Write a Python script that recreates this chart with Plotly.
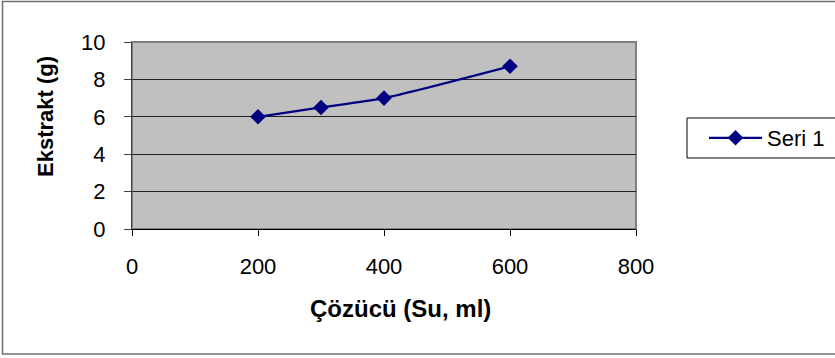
import plotly.graph_objects as go

# Solvent volume (ml) and extract yield (g)
solvent_ml = [200, 300, 400, 600]
extract_g = [6.0, 6.5, 7.0, 8.7]
series_name = "Seri 1"

x_ticks = [0, 200, 400, 600, 800]
y_ticks = [0, 2, 4, 6, 8, 10]

W, H = 835, 358
L, R, T, B = 132, 636, 42, 229  # plot area in pixels


def px_x(p):
    return (p - L) / (R - L)


def px_y(p):
    return (B - p) / (B - T)


FONT = "Liberation Sans, Arial, sans-serif"

fig = go.Figure()
fig.add_trace(go.Scatter(
    x=solvent_ml, y=extract_g, name=series_name,
    mode="lines+markers",
    line=dict(color="#000080", width=2.2, shape="spline", smoothing=0.6),
    marker=dict(symbol="diamond", size=12, color="#000080"),
))

fig.update_layout(
    width=W, height=H,
    margin=dict(l=L, r=W - R, t=T, b=H - B, autoexpand=False),
    paper_bgcolor="white",
    plot_bgcolor="#C0C0C0",
    font=dict(family=FONT, size=22, color="black"),
    showlegend=True,
    legend=dict(
        x=px_x(704), y=px_y(138), xanchor="left", yanchor="middle",
        bgcolor="rgba(0,0,0,0)", borderwidth=0,
        font=dict(size=22), itemwidth=53,
    ),
    xaxis=dict(
        range=[0, 800], tickvals=x_ticks, showgrid=False, zeroline=False,
        showline=True, linecolor="black", linewidth=1,
        ticks="outside", ticklen=6, tickcolor="black",
        ticklabelstandoff=12,
    ),
    yaxis=dict(
        range=[0, 10], tickvals=y_ticks, showgrid=True, gridcolor="#222222",
        gridwidth=1, zeroline=False,
        showline=True, linecolor="#444444", linewidth=1,
        ticks="outside", ticklen=7, tickcolor="#444444",
        ticklabelstandoff=14,
    ),
    shapes=[
        # plot-area frame
        dict(type="rect", xref="paper", yref="paper", x0=0, x1=1, y0=0, y1=1,
             line=dict(color="#808080", width=2), layer="below"),
        # chart-area border
        dict(type="rect", xref="paper", yref="paper",
             x0=px_x(2.5), x1=px_x(845), y0=px_y(354), y1=px_y(1.5),
             line=dict(color="#707070", width=1.5)),
        # legend frame
        dict(type="rect", xref="paper", yref="paper",
             x0=px_x(687), x1=px_x(850), y0=px_y(158), y1=px_y(118),
             line=dict(color="black", width=1)),
    ],
    annotations=[
        dict(text="<b>Çözücü (Su, ml)</b>", xref="paper", yref="paper",
             x=px_x(400), y=px_y(308), showarrow=False,
             font=dict(size=24), xanchor="center", yanchor="middle"),
        dict(text="<b>Ekstrakt (g)</b>", xref="paper", yref="paper",
             x=px_x(45), y=px_y(117), showarrow=False, textangle=-90,
             font=dict(size=22), xanchor="center", yanchor="middle"),
    ],
)

fig.write_html("out.html")
